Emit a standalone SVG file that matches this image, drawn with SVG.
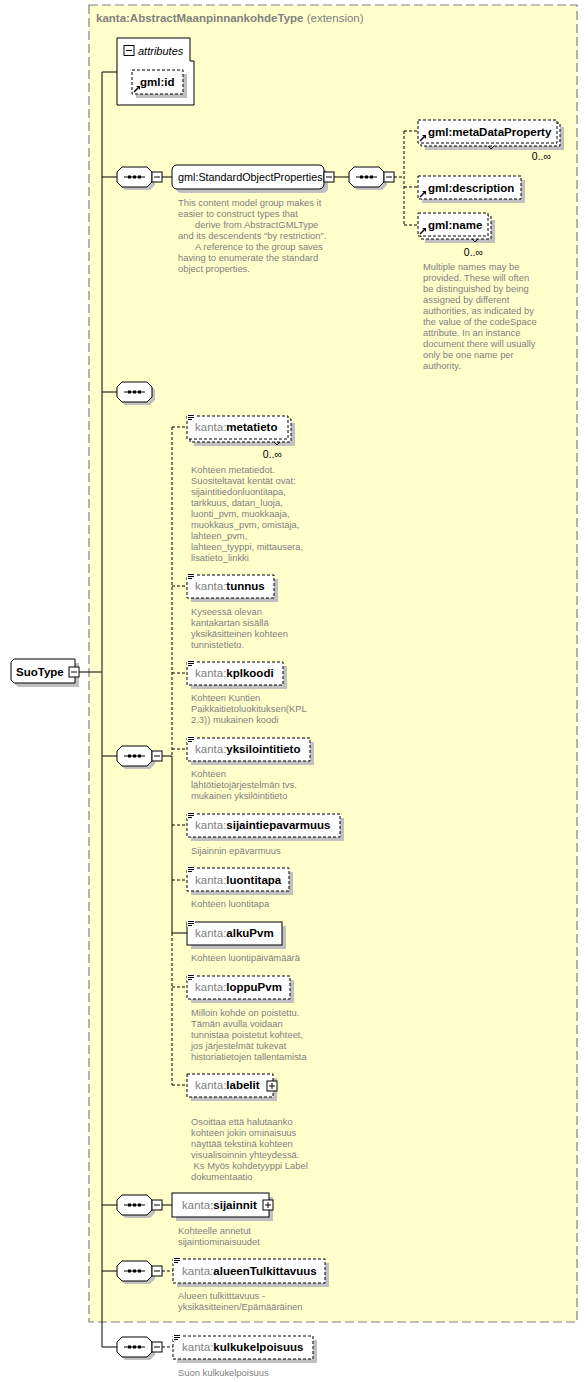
<svg xmlns="http://www.w3.org/2000/svg" xmlns:xlink="http://www.w3.org/1999/xlink" width="588" height="1382" viewBox="0 0 588 1382">
<style>
.ext{fill:#FFFFCC;stroke:#808080;stroke-width:1.2;stroke-dasharray:9,4}
.sh{fill:#C0C0C0;stroke:none}
.box{fill:#fff;stroke:#000;stroke-width:1}
.dbox{fill:#fff;stroke:#000;stroke-width:1;stroke-dasharray:3,2}
.ln{stroke:#000;stroke-width:1;fill:none}
.dl{stroke:#000;stroke-width:1;fill:none;stroke-dasharray:3,2}
.lbl{font-family:"Liberation Sans",Arial,sans-serif;font-size:11.5px;font-weight:bold;fill:#000}
.lbln{font-family:"Liberation Sans",Arial,sans-serif;font-size:10.8px;font-weight:normal;fill:#000}
.lbli{font-family:"Liberation Sans",Arial,sans-serif;font-size:11px;font-style:italic;fill:#000}
.pfx{font-weight:normal;fill:#808080}
.note{font-family:"Liberation Sans",Arial,sans-serif;font-size:9.4px;fill:#808080}
.mult{font-family:"Liberation Sans",Arial,sans-serif;font-size:10.5px;fill:#000}
.hdr{font-family:"Liberation Sans",Arial,sans-serif;font-size:11.5px;fill:#808080}
</style>
<defs>
<g id="seq">
<path class="sh" transform="translate(3,3)" d="M5,0H30L35,5V15L30,20H5L0,15V5Z"/>
<path class="box" d="M5,0H30L35,5V15L30,20H5L0,15V5Z"/>
<line class="ln" x1="7" y1="10" x2="28" y2="10"/>
<rect x="11" y="8.5" width="3" height="3" fill="#000"/>
<rect x="16" y="8.5" width="3" height="3" fill="#000"/>
<rect x="21" y="8.5" width="3" height="3" fill="#000"/>
</g>
<g id="minus">
<rect class="box" x="0" y="0" width="10" height="10"/>
<line class="ln" x1="2" y1="5" x2="8" y2="5"/>
</g>
<g id="plus">
<rect class="box" x="0" y="0" width="10" height="10"/>
<line class="ln" x1="2" y1="5" x2="8" y2="5"/>
<line class="ln" x1="5" y1="2" x2="5" y2="8"/>
</g>
<g id="simp">
<rect x="0" y="-1" width="8" height="7" fill="#fff"/>
<line class="ln" x1="1" y1="0.5" x2="7" y2="0.5"/>
<line class="ln" x1="1" y1="2.5" x2="7" y2="2.5"/>
<line class="ln" x1="1" y1="4.5" x2="5" y2="4.5"/>
</g>
<g id="refa">
<line x1="0" y1="0" x2="4" y2="-4" stroke="#000" stroke-width="1.5"/>
<polygon points="6,-6 2,-6 6,-2" fill="#000"/>
</g>
</defs>

<g id="extension">
<rect class="ext" x="89" y="5" width="488" height="1317"/>
<text class="hdr" x="96" y="22"><tspan style="font-weight:bold">kanta:AbstractMaanpinnankohdeType</tspan> (extension)</text>
</g>

<g id="connectors">
<line class="ln" x1="79" y1="672" x2="102" y2="672"/>
<line class="ln" x1="102" y1="72" x2="102" y2="1347"/>
<line class="ln" x1="102" y1="72" x2="117" y2="72"/>
<line class="ln" x1="102" y1="177" x2="117" y2="177"/>
<line class="ln" x1="162" y1="177" x2="172" y2="177"/>
<line class="ln" x1="334" y1="177" x2="349" y2="177"/>
<line class="dl" x1="394" y1="177" x2="404" y2="177"/>
<line class="dl" x1="404" y1="131" x2="404" y2="225"/>
<line class="dl" x1="404" y1="131" x2="418" y2="131"/>
<line class="dl" x1="404" y1="187" x2="418" y2="187"/>
<line class="dl" x1="404" y1="225" x2="418" y2="225"/>
<line class="ln" x1="102" y1="392" x2="117" y2="392"/>
<line class="ln" x1="102" y1="756" x2="117" y2="756"/>
<line class="ln" x1="162" y1="756" x2="172" y2="756"/>
<line class="dl" x1="172" y1="427" x2="172" y2="756"/>
<line class="ln" x1="172" y1="756" x2="172" y2="933"/>
<line class="dl" x1="172" y1="933" x2="172" y2="1085"/>
<line class="dl" x1="172" y1="427" x2="187" y2="427"/>
<line class="dl" x1="172" y1="586" x2="187" y2="586"/>
<line class="dl" x1="172" y1="673" x2="187" y2="673"/>
<line class="dl" x1="172" y1="749" x2="187" y2="749"/>
<line class="dl" x1="172" y1="825" x2="187" y2="825"/>
<line class="dl" x1="172" y1="880" x2="187" y2="880"/>
<line class="ln" x1="172" y1="933" x2="187" y2="933"/>
<line class="dl" x1="172" y1="987" x2="187" y2="987"/>
<line class="dl" x1="172" y1="1085" x2="187" y2="1085"/>
<line class="ln" x1="102" y1="1205" x2="117" y2="1205"/>
<line class="ln" x1="162" y1="1205" x2="172" y2="1205"/>
<line class="ln" x1="102" y1="1271" x2="117" y2="1271"/>
<line class="dl" x1="162" y1="1271" x2="173" y2="1271"/>
<line class="ln" x1="102" y1="1347" x2="117" y2="1347"/>
<line class="dl" x1="162" y1="1347" x2="173" y2="1347"/>
</g>

<g id="SuoType">
<path class="sh" transform="translate(4,4)" d="M14,659H75V683H14L11,680V662Z"/>
<path class="box" d="M14,659H75V683H14L11,680V662Z"/>
<text class="lbl" x="16" y="676" style="font-size:11.5px">SuoType</text>
<use xlink:href="#minus" x="69" y="667"/>
</g>

<g id="attributes">
<path class="box" d="M117,38H190V61H194V105H117Z"/>
<use xlink:href="#minus" x="124" y="45.5"/>
<text class="lbli" x="138" y="55">attributes</text>
</g>

<g id="gml_id">
<rect class="sh" x="136" y="74" width="51" height="24"/>
<rect class="dbox" x="132" y="70" width="51" height="24"/>
<text class="lbl" x="140" y="86">gml:id</text>
<use xlink:href="#refa" x="134" y="92"/>
</g>

<g id="seq1">
<use xlink:href="#seq" x="117" y="167"/>
<use xlink:href="#minus" x="152" y="172"/>
</g>

<g id="StandardObjectProperties">
<rect class="sh" x="176" y="169" width="152" height="24" rx="5"/>
<rect class="box" x="172" y="165" width="152" height="24" rx="5"/>
<text class="lbln" x="178" y="181">gml:StandardObjectProperties</text>
<use xlink:href="#minus" x="324" y="172"/>
<text class="note"><tspan x="178" y="205.5">This content model group makes it</tspan><tspan x="178" y="216.5">easier to construct types that</tspan><tspan x="195" y="227.5">derive from AbstractGMLType</tspan><tspan x="178" y="238.5">and its descendents "by restriction".</tspan><tspan x="195" y="249.5">A reference to the group saves</tspan><tspan x="178" y="260.5">having to enumerate the standard</tspan><tspan x="178" y="271.5">object properties.</tspan></text>
</g>

<g id="seq2">
<use xlink:href="#seq" x="349" y="167"/>
<use xlink:href="#minus" x="384" y="172"/>
</g>

<g id="gml_metaDataProperty">
<rect class="sh" x="425" y="127" width="139" height="23"/>
<rect class="dbox" x="421" y="123" width="139" height="23"/>
<rect class="dbox" x="418" y="120" width="139" height="23"/>
<polyline class="ln" points="488,146 491,149 494,146"/>
<text class="lbl" x="428" y="136">gml:metaDataProperty</text>
<use xlink:href="#refa" x="420" y="141"/>
<text class="mult" x="551" y="160" text-anchor="end">0..∞</text>
</g>

<g id="gml_description">
<rect class="sh" x="422" y="180" width="103" height="23"/>
<rect class="dbox" x="418" y="176" width="103" height="23"/>
<text class="lbl" x="428" y="192">gml:description</text>
<use xlink:href="#refa" x="420" y="197"/>
</g>

<g id="gml_name">
<rect class="sh" x="425" y="220" width="70" height="23"/>
<rect class="dbox" x="421" y="216" width="70" height="23"/>
<rect class="dbox" x="418" y="213" width="70" height="23"/>
<polyline class="ln" points="472,239 475,242 478,239"/>
<text class="lbl" x="428" y="229">gml:name</text>
<use xlink:href="#refa" x="420" y="234"/>
<text class="mult" x="483" y="256" text-anchor="end">0..∞</text>
<text class="note"><tspan x="423" y="269.5">Multiple names may be</tspan><tspan x="423" y="280.5">provided.  These will often</tspan><tspan x="423" y="291.5">be distinguished by being</tspan><tspan x="423" y="302.5">assigned by different</tspan><tspan x="423" y="313.5">authorities, as indicated by</tspan><tspan x="423" y="324.5">the value of the codeSpace</tspan><tspan x="423" y="335.5">attribute.  In an instance</tspan><tspan x="423" y="346.5">document there will usually</tspan><tspan x="423" y="357.5">only be one name per</tspan><tspan x="423" y="368.5">authority.</tspan></text>
</g>

<g id="seq3">
<use xlink:href="#seq" x="117" y="382"/>
</g>

<g id="seq4">
<use xlink:href="#seq" x="117" y="746"/>
<use xlink:href="#minus" x="152" y="751"/>
</g>

<g id="metatieto">
<rect class="sh" x="194" y="423" width="101" height="23"/>
<rect class="dbox" x="190" y="419" width="101" height="23"/>
<rect class="dbox" x="187" y="416" width="101" height="23"/>
<polyline class="ln" points="274,442 277,445 280,442"/>
<use xlink:href="#simp" x="187" y="415"/>
<text class="lbl" x="195" y="431"><tspan class="pfx">kanta:</tspan>metatieto</text>
<text class="mult" x="282" y="458" text-anchor="end">0..∞</text>
<text class="note"><tspan x="191" y="472.5">Kohteen metatiedot.</tspan><tspan x="191" y="483.5">Suositeltavat kentät ovat:</tspan><tspan x="191" y="494.5">sijaintitiedonluontitapa,</tspan><tspan x="191" y="505.5">tarkkuus, datan_luoja,</tspan><tspan x="191" y="516.5">luonti_pvm, muokkaaja,</tspan><tspan x="191" y="527.5">muokkaus_pvm, omistaja,</tspan><tspan x="191" y="538.5">lahteen_pvm,</tspan><tspan x="191" y="549.5">lahteen_tyyppi, mittausera,</tspan><tspan x="191" y="560.5">lisatieto_linkki</tspan></text>
</g>

<g id="tunnus">
<rect class="sh" x="191" y="579" width="87" height="23"/>
<rect class="dbox" x="187" y="575" width="87" height="23"/>
<use xlink:href="#simp" x="187" y="574"/>
<text class="lbl" x="195" y="590"><tspan class="pfx">kanta:</tspan>tunnus</text>
<text class="note"><tspan x="191" y="614.5">Kyseessä olevan</tspan><tspan x="191" y="625.5">kantakartan sisällä</tspan><tspan x="191" y="636.5">yksikäsitteinen kohteen</tspan><tspan x="191" y="647.5">tunnistetieto.</tspan></text>
</g>

<g id="kplkoodi">
<rect class="sh" x="191" y="666" width="96" height="23"/>
<rect class="dbox" x="187" y="662" width="96" height="23"/>
<use xlink:href="#simp" x="187" y="661"/>
<text class="lbl" x="195" y="677"><tspan class="pfx">kanta:</tspan>kplkoodi</text>
<text class="note"><tspan x="191" y="700.5">Kohteen Kuntien</tspan><tspan x="191" y="711.5">Paikkaitietoluokituksen(KPL</tspan><tspan x="191" y="722.5">2.3)) mukainen koodi</tspan></text>
</g>

<g id="yksilointitieto">
<rect class="sh" x="191" y="742" width="123" height="23"/>
<rect class="dbox" x="187" y="738" width="123" height="23"/>
<use xlink:href="#simp" x="187" y="737"/>
<text class="lbl" x="195" y="753"><tspan class="pfx">kanta:</tspan>yksilointitieto</text>
<text class="note"><tspan x="191" y="776.5">Kohteen</tspan><tspan x="191" y="787.5">lähtötietojärjestelmän  tvs.</tspan><tspan x="191" y="798.5">mukainen yksilöintitieto</tspan></text>
</g>

<g id="sijaintiepavarmuus">
<rect class="sh" x="191" y="818" width="153" height="23"/>
<rect class="dbox" x="187" y="814" width="153" height="23"/>
<use xlink:href="#simp" x="187" y="813"/>
<text class="lbl" x="195" y="829"><tspan class="pfx">kanta:</tspan>sijaintiepavarmuus</text>
<text class="note"><tspan x="191" y="853.5">Sijainnin epävarmuus</tspan></text>
</g>

<g id="luontitapa">
<rect class="sh" x="191" y="872" width="102" height="23"/>
<rect class="dbox" x="187" y="868" width="102" height="23"/>
<use xlink:href="#simp" x="187" y="867"/>
<text class="lbl" x="195" y="884"><tspan class="pfx">kanta:</tspan>luontitapa</text>
<text class="note"><tspan x="191" y="906.5">Kohteen luontitapa</tspan></text>
</g>

<g id="alkuPvm">
<rect class="sh" x="191" y="926" width="95" height="23"/>
<rect class="box" x="187" y="922" width="95" height="23"/>
<use xlink:href="#simp" x="187" y="921"/>
<text class="lbl" x="195" y="937"><tspan class="pfx">kanta:</tspan>alkuPvm</text>
<text class="note"><tspan x="191" y="960.5">Kohteen luontipäivämäärä</tspan></text>
</g>

<g id="loppuPvm">
<rect class="sh" x="191" y="980" width="103" height="23"/>
<rect class="dbox" x="187" y="976" width="103" height="23"/>
<use xlink:href="#simp" x="187" y="975"/>
<text class="lbl" x="195" y="991"><tspan class="pfx">kanta:</tspan>loppuPvm</text>
<text class="note"><tspan x="191" y="1015.5">Milloin kohde on poistettu.</tspan><tspan x="191" y="1026.5">Tämän avulla voidaan</tspan><tspan x="191" y="1037.5">tunnistaa poistetut kohteet,</tspan><tspan x="191" y="1048.5">jos järjestelmät tukevat</tspan><tspan x="191" y="1059.5">historiatietojen tallentamista</tspan></text>
</g>

<g id="labelit">
<rect class="sh" x="191" y="1078" width="86" height="23"/>
<rect class="dbox" x="187" y="1074" width="86" height="23"/>
<text class="lbl" x="195" y="1089"><tspan class="pfx">kanta:</tspan>labelit</text>
<use xlink:href="#plus" x="267" y="1081"/>
<text class="note"><tspan x="191" y="1124.5">Osoittaa että halutaanko</tspan><tspan x="191" y="1135.5">kohteen jokin ominaisuus</tspan><tspan x="191" y="1146.5">näyttää tekstinä kohteen</tspan><tspan x="191" y="1157.5">visualisoinnin yhteydessä.</tspan><tspan x="191" y="1168.5"> Ks Myös kohdetyyppi Label</tspan><tspan x="191" y="1179.5">dokumentaatio</tspan></text>
</g>

<g id="seq5">
<use xlink:href="#seq" x="117" y="1195"/>
<use xlink:href="#minus" x="152" y="1200"/>
</g>

<g id="sijainnit">
<rect class="sh" x="176" y="1197" width="97" height="24"/>
<rect class="box" x="172" y="1193" width="97" height="24"/>
<text class="lbl" x="182" y="1209"><tspan class="pfx">kanta:</tspan>sijainnit</text>
<use xlink:href="#plus" x="263" y="1200"/>
<text class="note"><tspan x="178" y="1233.5">Kohteelle annetut</tspan><tspan x="178" y="1244.5">sijaintiominaisuudet</tspan></text>
</g>

<g id="seq6">
<use xlink:href="#seq" x="117" y="1261"/>
<use xlink:href="#minus" x="152" y="1266"/>
</g>

<g id="alueenTulkittavuus">
<rect class="sh" x="177" y="1263" width="152" height="24"/>
<rect class="dbox" x="173" y="1259" width="152" height="24"/>
<use xlink:href="#simp" x="173" y="1258"/>
<text class="lbl" x="182" y="1275"><tspan class="pfx">kanta:</tspan>alueenTulkittavuus</text>
<text class="note"><tspan x="178" y="1298.5">Alueen tulkitttavuus -</tspan><tspan x="178" y="1309.5">yksikäsitteinen/Epämääräinen</tspan></text>
</g>

<g id="seq7">
<use xlink:href="#seq" x="117" y="1337"/>
<use xlink:href="#minus" x="152" y="1342"/>
</g>

<g id="kulkukelpoisuus">
<rect class="sh" x="177" y="1340" width="140" height="23"/>
<rect class="dbox" x="173" y="1336" width="140" height="23"/>
<use xlink:href="#simp" x="173" y="1335"/>
<text class="lbl" x="182" y="1351"><tspan class="pfx">kanta:</tspan>kulkukelpoisuus</text>
<text class="note"><tspan x="178" y="1375.5">Suon kulkukelpoisuus</tspan></text>
</g>
</svg>
